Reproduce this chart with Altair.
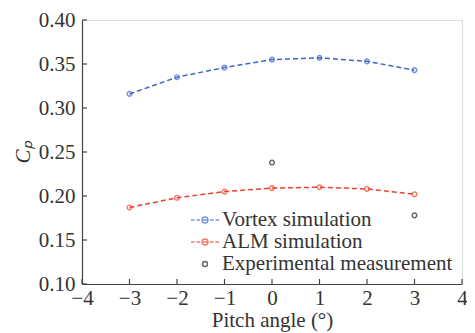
import altair as alt
import pandas as pd

# ---- data ----
pitch = [-3, -2, -1, 0, 1, 2, 3]
vortex_cp = [0.316, 0.335, 0.346, 0.355, 0.357, 0.353, 0.343]
alm_cp = [0.187, 0.198, 0.205, 0.209, 0.210, 0.208, 0.202]
exp_pitch = [0, 3]
exp_cp = [0.238, 0.178]

series = ["Vortex simulation", "ALM simulation", "Experimental measurement"]
colors = ["#3f66c9", "#f0402f", "#222222"]
x_ticks = [-4, -3, -2, -1, 0, 1, 2, 3, 4]
y_ticks = [0.10, 0.15, 0.20, 0.25, 0.30, 0.35, 0.40]

W, H = 380, 264
FONT = "Liberation Serif"

sim = pd.DataFrame(
    {
        "pitch": pitch * 2,
        "cp": vortex_cp + alm_cp,
        "series": [series[0]] * len(pitch) + [series[1]] * len(pitch),
    }
)
exp = pd.DataFrame({"pitch": exp_pitch, "cp": exp_cp, "series": [series[2]] * len(exp_pitch)})
allpts = pd.concat([sim, exp], ignore_index=True)
xt = pd.DataFrame({"v": x_ticks})
yt = pd.DataFrame({"v": y_ticks})

xscale = alt.Scale(domain=[-4, 4], nice=False, zero=False)
yscale = alt.Scale(domain=[0.10, 0.40], nice=False, zero=False)
cscale = alt.Scale(domain=series, range=colors)

dash_circle = (
    "M-1.4,0H-1.05M-0.85,0H-0.5M-0.3,0H0.3"
    "M0.3,0A0.3,0.3 0 1,1 -0.3,0A0.3,0.3 0 1,1 0.3,0"
    "M0.5,0H0.85M1.05,0H1.4"
)
circle_only = "M0.25,0A0.25,0.25 0 1,1 -0.25,0A0.25,0.25 0 1,1 0.25,0"
sscale = alt.Scale(domain=series, range=[dash_circle, dash_circle, circle_only])

xaxis = alt.Axis(
    values=x_ticks, format="d", ticks=False, grid=False, labelFlush=False,
    domainColor="#444", domainWidth=1.2,
    labelFont=FONT, labelFontSize=21, labelColor="#333", labelPadding=3,
    title="Pitch angle (°)", titleFont=FONT, titleFontSize=21,
    titleFontWeight="normal", titleColor="#333", titlePadding=1,
)
yaxis = alt.Axis(
    values=y_ticks, format=".2f", ticks=False, grid=False, labelFlush=False,
    domainColor="#444", domainWidth=1.2,
    labelFont=FONT, labelFontSize=21, labelColor="#333", labelPadding=7,
    title="Cₚ", titleFont=FONT, titleFontSize=21, titleFontStyle="italic",
    titleFontWeight="normal", titleColor="#333", titlePadding=5,
)

lines = alt.Chart(sim).mark_line(strokeDash=[5, 3], strokeWidth=1.5).encode(
    x=alt.X("pitch:Q", scale=xscale, axis=xaxis),
    y=alt.Y("cp:Q", scale=yscale, axis=yaxis),
    color=alt.Color("series:N", scale=cscale, legend=None),
)

points = alt.Chart(allpts).mark_point(
    shape="circle", filled=False, size=22, strokeWidth=1.4
).encode(
    x=alt.X("pitch:Q", scale=xscale),
    y=alt.Y("cp:Q", scale=yscale),
    color=alt.Color("series:N", scale=cscale, legend=None),
)

leg = dict(
    title=None, orient="none", legendX=112, legendY=189,
    labelFont=FONT, labelFontSize=21, labelColor="#333", labelLimit=0,
    symbolStrokeWidth=1.4, symbolSize=400, symbolFillColor="transparent",
    labelOffset=6, rowPadding=1, padding=0,
)
legend_carrier = alt.Chart(allpts).transform_filter("false").mark_point(filled=False).encode(
    x=alt.X("pitch:Q", scale=xscale),
    y=alt.Y("cp:Q", scale=yscale),
    color=alt.Color("series:N", scale=cscale, legend=alt.Legend(**leg)),
    shape=alt.Shape("series:N", scale=sscale, legend=alt.Legend(**leg)),
)

xticks = alt.Chart(xt).mark_rule(color="#444", strokeWidth=1.2).encode(
    x=alt.X("v:Q", scale=xscale), y=alt.value(H), y2=alt.value(H - 5)
)
yticks = alt.Chart(yt).mark_rule(color="#444", strokeWidth=1.2).encode(
    y=alt.Y("v:Q", scale=yscale), x=alt.value(0), x2=alt.value(5)
)

chart = (
    alt.layer(lines, points, legend_carrier, xticks, yticks)
    .resolve_legend(color="independent", shape="independent")
    .properties(
        width=W, height=H,
        autosize=alt.AutoSizeParams(type="none"),
        padding={"left": 74, "top": 12, "right": 5, "bottom": 49},
    )
    .configure_view(stroke=None)
    .configure(background="white")
)

chart.save("out.html", embed_options={"renderer": "svg", "actions": False})
